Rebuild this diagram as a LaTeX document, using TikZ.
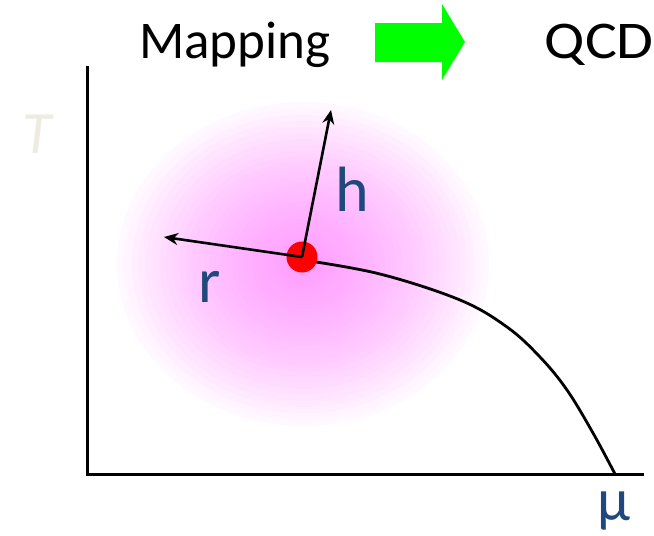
\documentclass[tikz,border=0pt]{standalone}
\usepackage{fontspec}
\setmainfont{Carlito}
\usetikzlibrary{arrows.meta}
\definecolor{glowc}{RGB}{255,140,255}
\definecolor{lblblue}{RGB}{31,73,125}
\definecolor{tcol}{RGB}{238,236,225}
\definecolor{arrgreen}{RGB}{0,255,0}
\tikzset{
  lbl/.style={font=\fontsize{64}{64}\selectfont, text=lblblue, inner sep=0pt, anchor=base},
  title/.style={font=\fontsize{53}{53}\selectfont, inner sep=0pt},
  vec/.style={line width=2.6pt, -{Stealth[length=14pt,width=12pt]}},
  axis/.style={line width=3pt},
  glowring/.style={fill=glowc, fill opacity=0.05, draw=none},
}
\begin{document}
\begin{tikzpicture}[x=1pt,y=-1pt]
\useasboundingbox (0,0) rectangle (654,536);
% glow
\foreach \i in {0,...,39}{
  \pgfmathsetmacro{\fr}{(1-\i/40)^1.6}
  \pgfmathsetmacro{\rx}{186*\fr}
  \pgfmathsetmacro{\ry}{162*\fr}
  \fill[glowring] (303,264) ellipse [x radius=\rx, y radius=\ry];
}
% axes
\coordinate (ytop) at (87,66);
\coordinate (orig) at (87,474);
\coordinate (xend) at (644,474);
\draw[axis] (ytop) -- (orig) -- (xend);
% curve
\draw[line width=2.8pt] plot[smooth, tension=0.6] coordinates {(303,260) (380,274) (460,300) (507,327) (540,357) (567,390) (593,433) (615,474)};
% dot
\node[circle, fill=red, minimum size=31pt, inner sep=0pt] (dot) at (302,257) {};
\coordinate (rtip) at (164,237);
\coordinate (htip) at (331,110);
\draw[vec] (dot.center) -- (rtip);
\draw[vec] (dot.center) -- (htip);
% labels
\node[lbl] (h) at (352,211) {h};
\node[lbl] (r) at (210,302) {r};
\node[lbl, font=\fontsize{60}{60}\selectfont] (mu) at (614,520) {μ};
\node[lbl, text=tcol, font=\fontsize{60}{60}\selectfont\itshape] (T) at (37,153) {T};
% title
\node[title, anchor=base west] (map) at (139,58) {Mapping};
\node[title, anchor=base east, xscale=1.13] (qcd) at (654,58) {QCD};
\fill[arrgreen] (375,23) -- (442,23) -- (442,4) -- (465,42) -- (442,80) -- (442,62) -- (375,62) -- cycle;
\end{tikzpicture}
\end{document}
